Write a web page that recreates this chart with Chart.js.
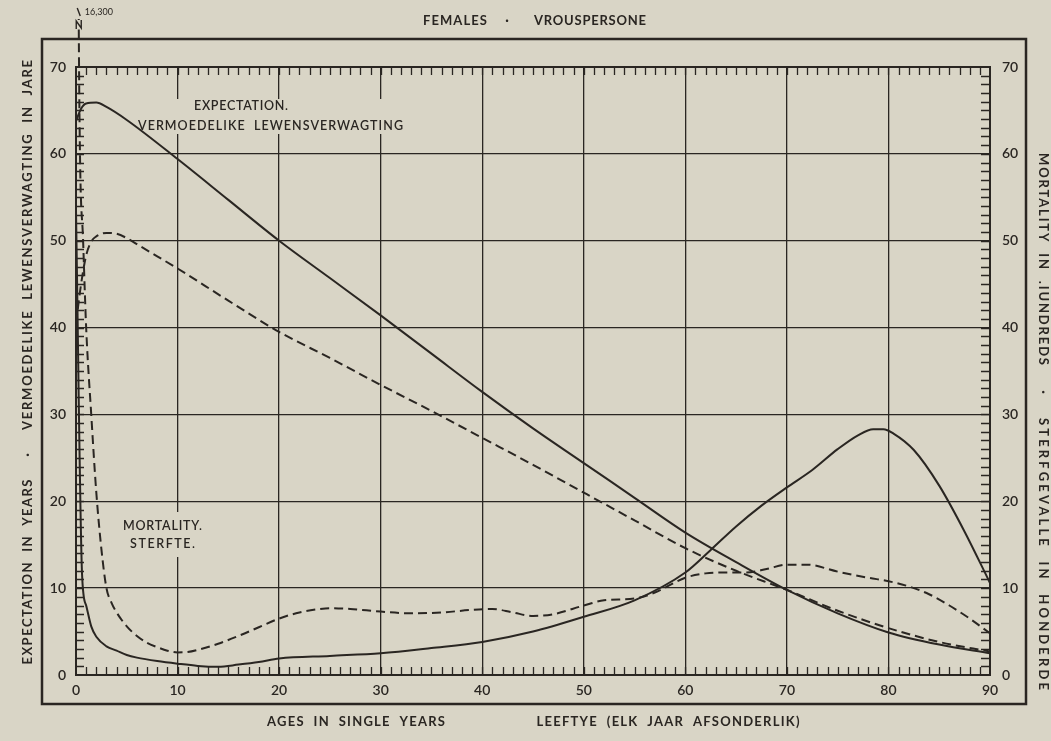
<!DOCTYPE html>
<html>
<head>
<meta charset="utf-8">
<script src="https://cdn.jsdelivr.net/npm/chart.js@4.4.1/dist/chart.umd.min.js"></script>
<style>
  html, body { margin: 0; padding: 0; background: #d9d5c6; }
  canvas { display: block; }
</style>
</head>
<body>
<canvas id="c" width="1051" height="741"></canvas>
<script>
// Tick values for the two axes
const ageTicks = [0, 10, 20, 30, 40, 50, 60, 70, 80, 90];
const valueTicks = [0, 10, 20, 30, 40, 50, 60, 70];

// Expectation of life in years (solid)
const expSolidAges = [0, 0.5, 1, 2, 3, 5, 10, 15, 20, 25, 30, 35, 40, 45, 50, 55, 60, 65, 70, 75, 80, 85, 90];
const expSolid     = [63.8, 65.2, 65.8, 65.9, 65.4, 63.9, 59.4, 54.7, 50.0, 45.7, 41.4, 37.0, 32.6, 28.4, 24.4, 20.4, 16.4, 13.0, 9.8, 7.1, 4.9, 3.5, 2.5];

// Expectation of life in years (dashed)
const expDashedAges = [0, 0.5, 1, 1.5, 2, 3, 4, 5, 6, 8, 10, 15, 20, 25, 30, 35, 40, 45, 50, 55, 60, 65, 70, 75, 80, 85, 90];
const expDashed     = [40.5, 45.0, 48.3, 49.9, 50.5, 50.9, 50.8, 50.3, 49.6, 48.2, 46.8, 43.1, 39.5, 36.5, 33.4, 30.4, 27.3, 24.2, 21.0, 17.8, 14.6, 12.0, 9.8, 7.4, 5.4, 3.8, 2.7];

// Mortality in hundreds (solid)
const mortSolidAges = [0, 0.6, 1, 1.5, 2, 3, 4, 5, 6, 8, 10, 12, 14, 16, 18, 20, 25, 30, 35, 40, 45, 50, 55, 60, 62.5, 65, 67.5, 70, 72.5, 75, 77, 78.5, 79.5, 80.5, 82.5, 85, 87.5, 90];
const mortSolid     = [53.5, 11.5, 8.0, 5.6, 4.4, 3.3, 2.8, 2.3, 2.0, 1.6, 1.3, 1.05, 0.95, 1.2, 1.5, 1.9, 2.2, 2.5, 3.1, 3.8, 5.0, 6.7, 8.6, 11.8, 14.4, 17.1, 19.5, 21.6, 23.6, 26.0, 27.6, 28.3, 28.3, 27.8, 25.9, 21.8, 16.5, 10.6];

// Mortality in hundreds (dashed) - first value runs off the top of the grid
const mortDashedAges = [0, 0.3, 0.7, 1, 1.5, 2, 2.5, 3, 3.5, 4, 5, 6, 7, 8, 9, 10, 11, 12, 14, 16, 18, 20, 22, 24, 25, 27, 30, 33, 36, 39, 41, 43, 45, 47, 50, 52, 55, 57, 60, 62, 64, 66, 68, 70, 72, 75, 78, 80, 82, 84, 86, 88, 90];
const mortDashed     = [163, 70, 50, 40, 30, 21, 14.5, 10, 8.3, 7.2, 5.6, 4.5, 3.7, 3.2, 2.8, 2.6, 2.65, 2.9, 3.6, 4.5, 5.5, 6.5, 7.2, 7.6, 7.7, 7.6, 7.3, 7.1, 7.2, 7.5, 7.6, 7.2, 6.8, 7.0, 8.0, 8.6, 8.8, 9.5, 11.2, 11.7, 11.8, 11.8, 12.2, 12.7, 12.7, 11.9, 11.2, 10.8, 10.2, 9.3, 8.0, 6.5, 4.8];

const INK = '#2a2622';
const PAPER = '#d9d5c6';
const FONT = 'Lato, "DejaVu Sans", sans-serif';

const pts = (xs, ys) => xs.map((x, i) => ({ x, y: ys[i] }));

function lineSet(label, xs, ys, axis, dashed, extra) {
  return Object.assign({
    label,
    data: pts(xs, ys),
    yAxisID: axis,
    borderColor: INK,
    borderWidth: 2,
    borderDash: dashed ? [9, 5] : [],
    pointRadius: 0,
    fill: false,
    cubicInterpolationMode: 'monotone'
  }, extra || {});
}

// Draws a line of text spread evenly over a given width, centred on cx
function spread(c, text, cx, cy, width) {
  c.letterSpacing = '0px';
  const w = c.measureText(text).width;
  const ls = Math.max(0, (width - w) / Math.max(1, text.length - 1));
  c.letterSpacing = ls + 'px';
  c.textAlign = 'left';
  c.fillText(text, cx - width / 2, cy);
  c.letterSpacing = '0px';
}

// Frame, titles, minor ticks and in-chart captions
const decor = {
  id: 'decor',
  beforeDraw(chart) {
    const c = chart.ctx;
    c.save();
    c.fillStyle = PAPER;
    c.fillRect(0, 0, chart.width, chart.height);
    c.strokeStyle = INK;
    c.lineWidth = 2.5;
    c.strokeRect(42, 39, 984, 665);

    c.fillStyle = INK;
    c.font = 'bold 13px ' + FONT;
    c.textBaseline = 'middle';
    spread(c, 'FEMALES', 455, 21, 64);
    c.textAlign = 'center';
    c.fillText('\u00b7', 507, 21);
    spread(c, 'VROUSPERSONE', 590, 21, 112);

    spread(c, 'AGES  IN  SINGLE  YEARS', 356, 722, 178);
    spread(c, 'LEEFTYE  (ELK  JAAR  AFSONDERLIK)', 668, 722, 263);

    // left axis title
    c.save();
    c.translate(28, 0);
    c.rotate(-Math.PI / 2);
    spread(c, 'EXPECTATION  IN  YEARS', -572, 0, 185);
    c.textAlign = 'center';
    c.fillText('\u00b7', -455, 0);
    spread(c, 'VERMOEDELIKE  LEWENSVERWAGTING  IN  JARE', -245, 0, 370);
    c.restore();

    // right axis title
    c.save();
    c.translate(1043, 0);
    c.rotate(Math.PI / 2);
    spread(c, 'MORTALITY  IN  .IUNDREDS', 259, 0, 212);
    c.textAlign = 'center';
    c.fillText('\u00b7', 392, 0);
    spread(c, 'STERFGEVALLE  IN  HONDERDE', 554, 0, 272);
    c.restore();
    c.restore();
  },
  beforeDatasetsDraw(chart) {
    const c = chart.ctx;
    const xs = chart.scales.x, ys = chart.scales.y;
    const a = chart.chartArea;
    c.save();
    c.strokeStyle = INK;
    c.lineWidth = 1.3;
    c.beginPath();
    for (let v = xs.min + 1; v < xs.max; v++) {
      const px = Math.round(xs.getPixelForValue(v)) + 0.5;
      c.moveTo(px, a.top); c.lineTo(px, a.top + 8);
      c.moveTo(px, a.bottom); c.lineTo(px, a.bottom - 8);
    }
    for (let v = ys.min + 1; v < ys.max; v++) {
      const py = Math.round(ys.getPixelForValue(v)) + 0.5;
      c.moveTo(a.left, py); c.lineTo(a.left + 8, py);
      c.moveTo(a.right, py); c.lineTo(a.right - 9, py);
    }
    c.stroke();

    // captions with paper behind them
    c.fillStyle = PAPER;
    c.fillRect(132, 99, 278, 35);
    c.fillRect(117, 512, 92, 45);
    c.fillStyle = INK;
    c.font = '600 12.5px ' + FONT;
    c.textBaseline = 'middle';
    spread(c, 'EXPECTATION.', 241, 106, 94);
    spread(c, 'VERMOEDELIKE  LEWENSVERWAGTING', 270.5, 126, 265);
    spread(c, 'MORTALITY.', 162.5, 526, 79);
    spread(c, 'STERFTE.', 162.5, 544, 65);
    c.restore();
  },
  afterDatasetsDraw(chart) {
    const c = chart.ctx;
    const xs = chart.scales.x;
    const first = mortDashed[0];
    const px = xs.getPixelForValue(0.27);
    c.save();
    c.strokeStyle = INK;
    c.fillStyle = PAPER;
    c.fillRect(px - 4, 20, 8, 8);
    c.lineWidth = 1.4;
    c.beginPath();
    c.moveTo(px - 2.5, 29); c.lineTo(px - 2.5, 21);
    c.lineTo(px + 2.5, 28); c.lineTo(px + 2.5, 20);
    c.moveTo(px - 1.5, 8); c.lineTo(px + 1.5, 16);
    c.stroke();
    c.fillStyle = INK;
    c.font = '9px ' + FONT;
    c.textBaseline = 'middle';
    c.textAlign = 'left';
    c.fillText((first * 100).toLocaleString('en-US'), px + 6, 12);
    c.restore();
  }
};

const tickFont = { family: FONT, size: 14, weight: '600' };

new Chart(document.getElementById('c'), {
  type: 'line',
  data: {
    datasets: [
      lineSet('Expectation', expSolidAges, expSolid, 'y', false),
      lineSet('Expectation (dashed)', expDashedAges, expDashed, 'y', true),
      lineSet('Mortality', mortSolidAges, mortSolid, 'y2', false),
      lineSet('Mortality (dashed)', mortDashedAges, mortDashed, 'y2', true,
        { clip: { left: 5, top: 48, right: 5, bottom: 5 } })
    ]
  },
  options: {
    responsive: false,
    animation: false,
    devicePixelRatio: 1,
    layout: { padding: { top: 67, left: 0, right: 0, bottom: 0 } },
    plugins: { legend: { display: false }, tooltip: { enabled: false }, title: { display: false } },
    scales: {
      x: {
        type: 'linear', min: ageTicks[0], max: ageTicks[ageTicks.length - 1],
        afterBuildTicks: s => { s.ticks = ageTicks.map(v => ({ value: v })); },
        afterFit: s => { s.height = 66; },
        ticks: { color: INK, font: tickFont, padding: 7, maxRotation: 0 },
        grid: { color: INK, lineWidth: 1.3, drawTicks: false },
        border: { color: INK, width: 2 }
      },
      y: {
        position: 'left', min: valueTicks[0], max: valueTicks[valueTicks.length - 1],
        afterBuildTicks: s => { s.ticks = valueTicks.map(v => ({ value: v })); },
        afterFit: s => { s.width = 76; },
        ticks: { color: INK, font: tickFont, padding: 10 },
        grid: { color: INK, lineWidth: c => (c.tick && c.tick.value === 70 ? 2 : 1.3), drawTicks: false },
        border: { color: INK, width: 2 }
      },
      y2: {
        position: 'right', min: valueTicks[0], max: valueTicks[valueTicks.length - 1],
        afterBuildTicks: s => { s.ticks = valueTicks.map(v => ({ value: v })); },
        afterFit: s => { s.width = 61; },
        ticks: { color: INK, font: tickFont, padding: 12 },
        grid: { display: false, drawTicks: false },
        border: { color: INK, width: 2 }
      }
    }
  },
  plugins: [decor]
});
</script>
</body>
</html>
